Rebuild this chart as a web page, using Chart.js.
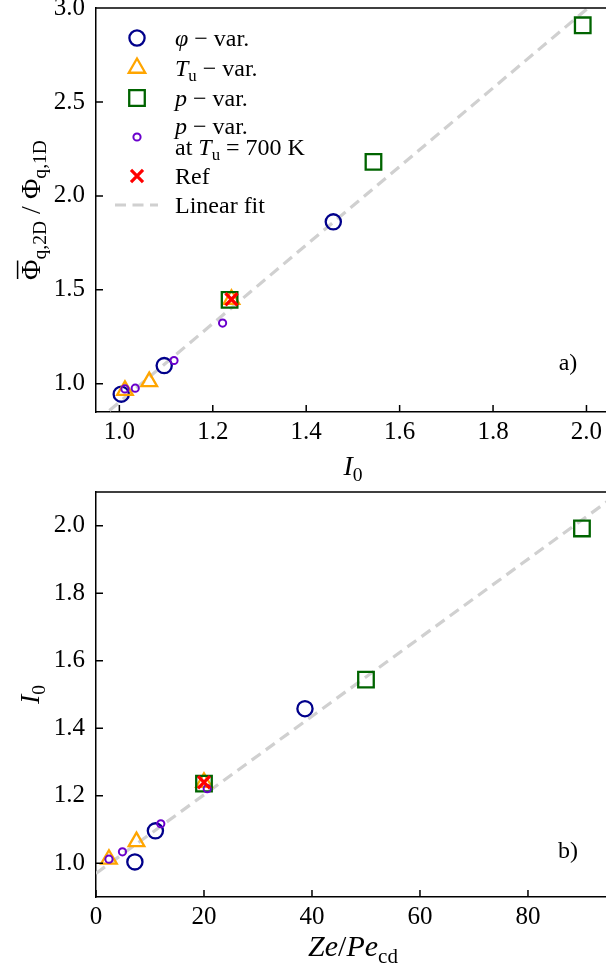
<!DOCTYPE html>
<html lang="en">
<head>
  <meta charset="UTF-8">
  <title>Phi ratio vs I0 and I0 vs Ze/Pe</title>
  <script src="https://cdn.jsdelivr.net/npm/chart.js"></script>
  <style>
    html, body { margin: 0; padding: 0; background: #fff; overflow: hidden; width: 606px; height: 972px; }
    canvas { position: absolute; left: 0; }
    #top { top: -18px; }
    #bottom { top: 466px; }
  </style>
</head>
<body>

  <canvas id="top" width="700" height="500"></canvas>
  <canvas id="bottom" width="700" height="506"></canvas>

  <script>
    // values
    // phi - var.
    const phiI0 = [1.004, 1.096, 1.458];
    const phiRatio = [0.945, 1.097, 1.862];
    const phiZePe = [7.2, 11.0, 38.7];
    // T_u - var.
    const tuI0 = [1.012, 1.064, 1.240];
    const tuRatio = [0.965, 1.012, 1.450];
    const tuZePe = [2.4, 7.5, 20.0];
    // p - var.
    const pI0 = [1.236, 1.544, 1.992];
    const pRatio = [1.447, 2.181, 2.908];
    const pZePe = [20.0, 50.0, 90.0];
    // p - var. at T_u = 700 K
    const p700I0 = [1.012, 1.034, 1.117, 1.221];
    const p700Ratio = [0.973, 0.977, 1.124, 1.323];
    const p700ZePe = [2.4, 4.9, 12.0, 20.6];
    // Ref
    const refI0 = [1.240];
    const refRatio = [1.450];
    const refZePe = [20.0];
    // linear fits (end points, clipped by the plot area)
    const fitTopI0 = [0.95, 2.15];
    const fitTopRatio = [0.798, 3.306];
    const fitBotZePe = [0, 110];
    const fitBotI0 = [0.970, 2.250];

    // ticks
    const topXTicks = [1.0, 1.2, 1.4, 1.6, 1.8, 2.0];
    const topYTicks = [1.0, 1.5, 2.0, 2.5, 3.0];
    const botXTicks = [0, 20, 40, 60, 80, 100];
    const botYTicks = [1.0, 1.2, 1.4, 1.6, 1.8, 2.0];

    const FONT = '"Liberation Serif", "DejaVu Serif", serif';
    const BLUE = '#00008b', ORANGE = '#ffa500', GREEN = '#006400',
          PURPLE = '#6a00cc', RED = '#ff0000', GREY = '#d0d0d0';

    function pts(xs, ys) {
      return xs.map((x, i) => ({ x: x, y: ys[i] }));
    }

    // --- small rich text helper (italic / subscript / overline) ---
    function segFont(s, size) {
      const sz = s.sub ? size * 0.7 : size;
      return (s.it ? 'italic ' : '') + sz + 'px ' + FONT;
    }
    function richWidth(ctx, segs, size) {
      let w = 0;
      segs.forEach(s => { ctx.font = segFont(s, size); w += ctx.measureText(s.t).width; });
      return w;
    }
    function drawRich(ctx, segs, x, y, size, align) {
      let cx = align === 'center' ? x - richWidth(ctx, segs, size) / 2 : x;
      ctx.textBaseline = 'alphabetic';
      ctx.textAlign = 'left';
      ctx.fillStyle = '#000';
      segs.forEach(s => {
        ctx.font = segFont(s, size);
        const tw = ctx.measureText(s.t).width;
        const dy = s.sub ? size * 0.22 : 0;
        ctx.fillText(s.t, cx, y + dy);
        if (s.over) {
          ctx.save();
          ctx.strokeStyle = '#000';
          ctx.lineWidth = 1.5;
          ctx.beginPath();
          ctx.moveTo(cx + 1, y - size * 0.8);
          ctx.lineTo(cx + tw - 1, y - size * 0.8);
          ctx.stroke();
          ctx.restore();
        }
        cx += tw;
      });
    }

    function marker(ctx, style, x, y, r, color, lw) {
      ctx.save();
      ctx.strokeStyle = color;
      ctx.lineWidth = lw;
      ctx.beginPath();
      if (style === 'circle') {
        ctx.arc(x, y, r, 0, Math.PI * 2);
      } else if (style === 'triangle') {
        for (let k = 0; k < 3; k++) {
          const a = k * 2 * Math.PI / 3;
          const px = x + Math.sin(a) * r, py = y - Math.cos(a) * r;
          if (k === 0) ctx.moveTo(px, py); else ctx.lineTo(px, py);
        }
        ctx.closePath();
      } else if (style === 'rect') {
        const s = Math.SQRT1_2 * r;
        ctx.rect(x - s, y - s, 2 * s, 2 * s);
      } else if (style === 'crossRot') {
        const s = Math.SQRT1_2 * r;
        ctx.moveTo(x - s, y - s); ctx.lineTo(x + s, y + s);
        ctx.moveTo(x - s, y + s); ctx.lineTo(x + s, y - s);
      }
      ctx.stroke();
      ctx.restore();
    }

    // extra texts per canvas (kept out of chart options so they are not resolved)
    const panelTexts = {};

    // inward ticks and the top frame line
    const framePlugin = {
      id: 'frame',
      afterDatasetsDraw(chart) {
        const ctx = chart.ctx, a = chart.chartArea;
        const xs = chart.scales.x, ys = chart.scales.y;
        ctx.save();
        ctx.strokeStyle = '#000';
        ctx.lineWidth = 1.5;
        ctx.beginPath();
        xs.ticks.forEach(t => {
          const px = xs.getPixelForValue(t.value);
          ctx.moveTo(px, a.bottom); ctx.lineTo(px, a.bottom - 7);
        });
        ys.ticks.forEach(t => {
          const py = ys.getPixelForValue(t.value);
          ctx.moveTo(a.left, py); ctx.lineTo(a.left + 7, py);
        });
        ctx.moveTo(a.left, a.top); ctx.lineTo(a.right, a.top);
        ctx.stroke();
        ctx.restore();
      },
      afterDraw(chart) {
        const fn = panelTexts[chart.canvas.id];
        if (fn) fn(chart.ctx, chart.chartArea);
      }
    };
    Chart.register(framePlugin);

    function axis(min, max, ticks, fmt, isX, fitSize) {
      return {
        type: 'linear',
        min: min,
        max: max,
        grid: { display: false, drawTicks: false },
        border: { display: true, color: '#000', width: 1.5 },
        afterBuildTicks: s => { s.ticks = ticks.map(v => ({ value: v })); },
        afterFit: s => {
          if (isX) s.height = fitSize; else s.width = fitSize;
        },
        ticks: {
          color: '#000',
          font: { family: FONT, size: 25 },
          padding: isX ? 5 : 11,
          maxRotation: 0,
          autoSkip: false,
          callback: fmt
        }
      };
    }

    function scatterSet(data, style, r, color, lw, order) {
      return {
        data: data,
        pointStyle: style,
        pointRadius: r,
        pointHoverRadius: r,
        pointBorderColor: color,
        pointBackgroundColor: 'rgba(0,0,0,0)',
        pointBorderWidth: lw,
        showLine: false,
        order: order
      };
    }
    function fitSet(data) {
      return {
        data: data,
        showLine: true,
        borderColor: GREY,
        borderWidth: 3.2,
        borderDash: [11, 6.5],
        pointRadius: 0,
        order: 9
      };
    }

    // legend drawn in the top panel (off = page y -> canvas y)
    function drawLegend(ctx, off) {
      const mx = 137, tx = 175, size = 24;
      const rows = [
        { y: 38, style: 'circle', r: 7.6, c: BLUE, lw: 2.3, txt: [[{ t: 'φ', it: true }, { t: ' − var.' }]] },
        { y: 68, style: 'triangle', r: 9.5, c: ORANGE, lw: 2.3, txt: [[{ t: 'T', it: true }, { t: 'u', sub: true }, { t: ' − var.' }]] },
        { y: 98, style: 'rect', r: 11, c: GREEN, lw: 2.3, txt: [[{ t: 'p', it: true }, { t: ' − var.' }]] },
        { y: 137, style: 'circle', r: 3.6, c: PURPLE, lw: 2, txt: [[{ t: 'p', it: true }, { t: ' − var.' }],
            [{ t: 'at ' }, { t: 'T', it: true }, { t: 'u', sub: true }, { t: ' = 700 K' }]] },
        { y: 176, style: 'crossRot', r: 8.5, c: RED, lw: 3.2, txt: [[{ t: 'Ref' }]] },
        { y: 205, style: 'line', txt: [[{ t: 'Linear fit' }]] }
      ];
      rows.forEach(row => {
        const y = row.y + off;
        if (row.style === 'line') {
          ctx.save();
          ctx.strokeStyle = GREY;
          ctx.lineWidth = 3.2;
          ctx.setLineDash([11, 6.5]);
          ctx.beginPath();
          ctx.moveTo(115, y); ctx.lineTo(158, y);
          ctx.stroke();
          ctx.restore();
        } else {
          marker(ctx, row.style, mx, y, row.r, row.c, row.lw);
        }
        if (row.txt.length === 1) {
          drawRich(ctx, row.txt[0], tx, y + 8, size, 'left');
        } else {
          drawRich(ctx, row.txt[0], tx, y - 3, size, 'left');
          drawRich(ctx, row.txt[1], tx, y + 18, size, 'left');
        }
      });
    }

    panelTexts.top = (ctx, a) => {
      drawLegend(ctx, 18);
      drawRich(ctx, [{ t: 'a)' }], 568, 388, 24, 'center');
      drawRich(ctx, [{ t: 'I', it: true }, { t: '0', sub: true }], 353, 493, 28, 'center');
      ctx.save();
      ctx.translate(40, (a.top + a.bottom) / 2);
      ctx.rotate(-Math.PI / 2);
      drawRich(ctx, [{ t: 'Φ', over: true }, { t: 'q,2D', sub: true }, { t: ' / ' },
                     { t: 'Φ' }, { t: 'q,1D', sub: true }], 0, 0, 28, 'center');
      ctx.restore();
    };
    panelTexts.bottom = (ctx, a) => {
      drawRich(ctx, [{ t: 'b)' }], 568, 392, 24, 'center');
      drawRich(ctx, [{ t: 'Ze', it: true }, { t: '/' }, { t: 'Pe', it: true }, { t: 'cd', sub: true }],
               353, 490, 30, 'center');
      ctx.save();
      ctx.translate(39, (a.top + a.bottom) / 2);
      ctx.rotate(-Math.PI / 2);
      drawRich(ctx, [{ t: 'I', it: true }, { t: '0', sub: true }], 0, 0, 28, 'center');
      ctx.restore();
    };

    // ---------- top panel ----------
    new Chart(document.getElementById('top').getContext('2d'), {
      type: 'scatter',
      data: {
        datasets: [
          scatterSet(pts(refI0, refRatio), 'crossRot', 8.5, RED, 3.2, 0),
          scatterSet(pts(p700I0, p700Ratio), 'circle', 3.6, PURPLE, 2, 1),
          scatterSet(pts(tuI0, tuRatio), 'triangle', 9, ORANGE, 2.3, 3),
          scatterSet(pts(pI0, pRatio), 'rect', 11, GREEN, 2.3, 2),
          scatterSet(pts(phiI0, phiRatio), 'circle', 7.6, BLUE, 2.3, 4),
          fitSet(pts(fitTopI0, fitTopRatio))
        ]
      },
      options: {
        responsive: false,
        animation: false,
        layout: { padding: { top: 26, right: 50, left: 0, bottom: 0 } },
        scales: {
          x: axis(0.95, 2.136, topXTicks, v => v.toFixed(1), true, 70),
          y: axis(0.85, 3.0, topYTicks, v => v.toFixed(1), false, 96)
        },
        plugins: {
          legend: { display: false },
          tooltip: { enabled: false }
        }
      }
    });

    // ---------- bottom panel ----------
    new Chart(document.getElementById('bottom').getContext('2d'), {
      type: 'scatter',
      data: {
        datasets: [
          scatterSet(pts(refZePe, refI0), 'crossRot', 8.5, RED, 3.2, 0),
          scatterSet(pts(p700ZePe, p700I0), 'circle', 3.6, PURPLE, 2, 1),
          scatterSet(pts(tuZePe, tuI0), 'triangle', 9, ORANGE, 2.3, 3),
          scatterSet(pts(pZePe, pI0), 'rect', 11, GREEN, 2.3, 2),
          scatterSet(pts(phiZePe, phiI0), 'circle', 7.6, BLUE, 2.3, 4),
          fitSet(pts(fitBotZePe, fitBotI0))
        ]
      },
      options: {
        responsive: false,
        animation: false,
        layout: { padding: { top: 26, right: 50, left: 0, bottom: 0 } },
        scales: {
          x: axis(0, 102.6, botXTicks, v => String(v), true, 75),
          y: axis(0.9, 2.1, botYTicks, v => v.toFixed(1), false, 96)
        },
        plugins: {
          legend: { display: false },
          tooltip: { enabled: false }
        }
      }
    });
  </script>

</body>
</html>
